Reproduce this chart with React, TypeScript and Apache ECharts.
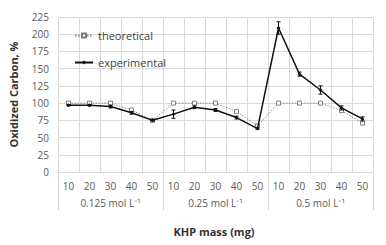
import React, { useEffect, useRef } from "react";
import * as echarts from "echarts";

const massLabels = ["10","20","30","40","50","10","20","30","40","50","10","20","30","40","50"];
const groupLabels = ["0.125 mol L⁻¹", "0.25 mol L⁻¹", "0.5 mol L⁻¹"];
const theoretical = [100,100,100,90,75, 100,100,100,88,67, 100,100,100,89,71];
const experimental = [97,97,95,86,75, 84,94,90,79,63, 209,142,119,93,77];
const expError = [1,1,2,2,1, 6,2,2,2,1, 9,3,6,3,3];
const yTicks = { min: 0, max: 225, interval: 25 };

const FONT = "'Open Sans', 'Liberation Sans', sans-serif";

export default function App() {
  const ref = useRef<HTMLDivElement>(null);
  useEffect(() => {
    document.body.style.margin = "0";
    if (!ref.current) return;
    const chart = echarts.init(ref.current, null, { renderer: "svg" });
    const errData = experimental.map((v, i) => [i, v - expError[i], v + expError[i]]);
    chart.setOption({
      animation: false,
      grid: { left: 55, right: 13, top: 17, bottom: 73, containLabel: false },
      legend: {
        orient: "vertical",
        left: 69,
        top: 25,
        itemGap: 16,
        itemWidth: 18,
        itemHeight: 5,
        textStyle: { fontFamily: FONT, fontSize: 11, color: "#404040" },
        data: ["theoretical", "experimental"],
      },
      xAxis: [
        {
          type: "category",
          data: massLabels,
          boundaryGap: true,
          axisLine: { lineStyle: { color: "#d9d9d9" } },
          axisTick: { show: false },
          axisLabel: { interval: 0, margin: 9, fontFamily: FONT, fontSize: 10, color: "#595959" },
          splitLine: { show: true, interval: 0, lineStyle: { color: "#d9d9d9" } },
        },
        {
          type: "category",
          data: groupLabels,
          position: "bottom",
          boundaryGap: true,
          axisLine: { show: false },
          axisTick: { show: true, interval: 0, length: 38, lineStyle: { color: "#d9d9d9" } },
          axisLabel: { interval: 0, margin: 26, fontFamily: FONT, fontSize: 10, color: "#595959" },
          splitLine: { show: false },
        },
      ],
      yAxis: {
        type: "value",
        min: yTicks.min,
        max: yTicks.max,
        interval: yTicks.interval,
        name: "Oxidized Carbon, %",
        nameLocation: "middle",
        nameGap: 39,
        nameTextStyle: { fontFamily: FONT, fontSize: 11, fontWeight: "bold", color: "#333333" },
        axisLine: { show: false },
        axisTick: { show: false },
        axisLabel: { fontFamily: FONT, fontSize: 10, color: "#595959", margin: 9 },
        splitLine: { lineStyle: { color: "#d9d9d9" } },
      },
      graphic: [
        {
          type: "text",
          x: 214,
          y: 231,
          style: {
            text: "KHP mass (mg)",
            fontFamily: FONT,
            fontSize: 11,
            fontWeight: "bold",
            fill: "#333333",
            align: "center",
            verticalAlign: "middle",
          },
        },
      ],
      series: [
        {
          name: "theoretical",
          type: "line",
          xAxisIndex: 0,
          data: theoretical,
          symbol: "rect",
          symbolSize: 4,
          lineStyle: { color: "#8c8c8c", width: 1, type: [1.5, 1.5] },
          itemStyle: { color: "#ffffff", borderColor: "#7f7f7f", borderWidth: 1 },
          z: 3,
        },
        {
          name: "experimental",
          type: "line",
          xAxisIndex: 0,
          data: experimental,
          symbol: "diamond",
          symbolSize: 4,
          lineStyle: { color: "#111111", width: 1.5 },
          itemStyle: { color: "#111111" },
          z: 4,
        },
        {
          name: "err",
          type: "custom",
          xAxisIndex: 0,
          data: errData,
          z: 5,
          renderItem: (params: any, api: any) => {
            const x = api.value(0);
            const lo = api.coord([x, api.value(1)]);
            const hi = api.coord([x, api.value(2)]);
            const w = 2;
            const style = { stroke: "#111111", lineWidth: 1 };
            return {
              type: "group",
              children: [
                { type: "line", shape: { x1: lo[0], y1: lo[1], x2: hi[0], y2: hi[1] }, style },
                { type: "line", shape: { x1: lo[0] - w, y1: lo[1], x2: lo[0] + w, y2: lo[1] }, style },
                { type: "line", shape: { x1: hi[0] - w, y1: hi[1], x2: hi[0] + w, y2: hi[1] }, style },
              ],
            };
          },
        },
      ],
    });
    return () => chart.dispose();
  }, []);
  return <div ref={ref} style={{ width: 386, height: 245 }} />;
}
